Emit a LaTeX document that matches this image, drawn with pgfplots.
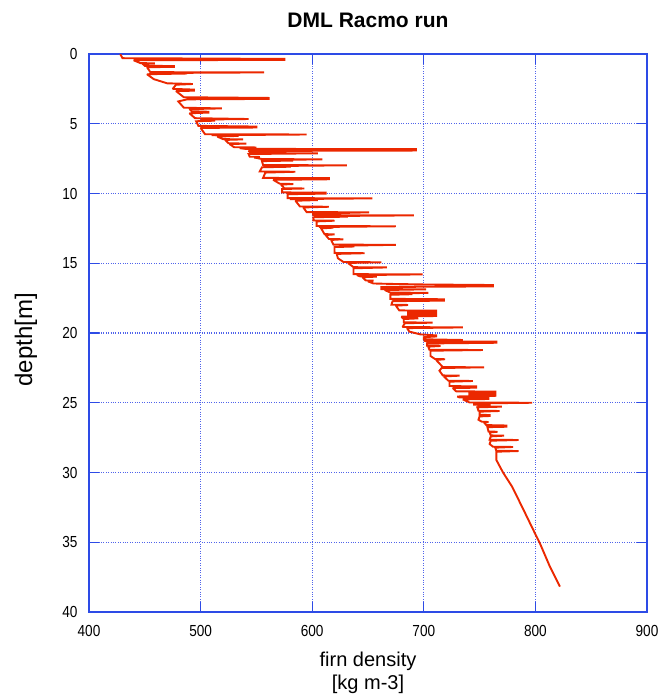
\documentclass[border=0pt]{standalone}
\usepackage{fontspec}
\setmainfont{Liberation Sans}
\newfontfamily\tickfont[FakeStretch=0.85]{Liberation Sans}
\usepackage{pgfplots}
\usepackage{pgfplotstable}
\pgfplotsset{compat=1.18}
\definecolor{frameblue}{RGB}{45,75,230}
\definecolor{gridblue}{RGB}{80,100,235}
\definecolor{linered}{RGB}{235,40,0}
\pgfplotstableread{
z rho
0.00 428
0.30 430
0.35 575
0.42 575
0.45 440
0.65 446
0.67 459
0.70 448
0.85 450
0.86 476
0.92 476
0.95 452
1.30 455
1.32 557
1.35 487
1.40 487
1.45 452
1.80 458
2.10 470
2.15 493
2.20 478
2.50 475
2.55 494
2.63 494
2.66 478
3.10 485
3.15 561
3.22 561
3.25 488
3.40 480
3.85 485
3.90 519
3.95 490
4.10 492
4.14 507
4.20 507
4.25 490
4.60 495
4.66 543
4.70 500
4.78 513
4.82 496
5.15 498
5.20 550
5.27 550
5.30 500
5.75 504
5.77 595
5.82 510
5.87 534
5.92 515
6.10 520
6.12 538
6.16 522
6.40 525
6.42 541
6.46 526
6.68 530
6.70 550
6.75 535
6.80 540
6.82 693
6.92 693
6.95 543
7.10 545
7.12 605
7.17 543
7.36 544
7.38 553
7.42 548
7.53 555
7.55 609
7.58 582
7.64 582
7.68 555
7.96 556
7.98 631
8.02 580
8.08 580
8.12 555
8.42 553
8.44 585
8.50 558
8.88 556
8.90 615
8.98 615
9.02 565
9.30 571
9.32 583
9.36 572
9.62 575
9.64 593
9.68 573
9.92 573
9.94 612
10.01 612
10.05 578
10.33 578
10.35 654
10.40 580
10.47 605
10.52 585
10.93 589
10.95 615
11.00 592
11.33 595
11.35 651
11.40 625
11.46 625
11.50 600
11.55 602
11.57 691
11.62 605
11.66 632
11.70 601
11.93 601
11.95 620
12.00 604
12.33 604
12.35 675
12.40 606
12.45 619
12.50 608
12.91 611
12.93 620
12.98 612
13.26 615
13.28 628
13.33 617
13.66 619
13.68 675
13.73 637
13.80 637
13.84 620
14.26 620
14.28 647
14.33 622
14.64 623
14.91 628
14.93 662
14.98 632
15.28 637
15.30 667
15.36 637
15.78 637
15.80 699
15.85 640
15.94 643
15.96 658
16.00 645
16.23 648
16.25 655
16.30 650
16.45 655
16.48 670
16.52 700
16.56 762
16.66 762
16.70 662
16.85 662
16.87 702
16.92 665
17.10 670
17.12 704
17.15 689
17.22 689
17.26 670
17.55 670
17.58 718
17.68 718
17.72 672
17.97 671
17.99 686
18.04 675
18.38 678
18.40 712
18.45 685
18.52 712
18.58 685
18.65 712
18.72 685
18.78 712
18.82 680
18.93 681
18.95 695
19.00 682
19.23 682
19.26 708
19.30 683
19.57 681
19.60 735
19.65 685
19.90 687
20.10 697
20.17 711
20.25 711
20.30 700
20.45 700
20.50 735
20.55 700
20.60 703
20.62 765
20.70 765
20.75 703
20.91 703
20.93 715
20.98 704
21.20 705
21.22 753
21.27 706
21.65 706
21.86 710
21.88 719
21.93 711
22.44 717
22.46 754
22.51 716
22.70 714
23.04 717
23.06 732
23.11 718
23.42 722
23.44 744
23.49 723
23.80 723
23.83 747
23.92 747
23.95 726
24.18 729
24.20 765
24.28 740
24.35 765
24.42 740
24.50 765
24.55 730
24.62 732
24.65 758
24.73 758
24.76 735
24.98 741
25.00 797
25.05 745
25.14 745
25.16 759
25.22 759
25.26 748
25.28 770
25.33 748
25.57 749
25.59 768
25.64 750
25.86 750
25.88 759
25.95 759
25.98 750
26.22 749
26.36 752
26.38 758
26.42 754
26.60 756
26.63 774
26.72 774
26.75 757
27.06 758
27.08 766
27.13 759
27.34 760
27.36 772
27.41 760
27.65 759
27.67 785
27.72 760
27.96 759
28.15 762
28.17 780
28.22 764
28.44 765
28.46 785
28.51 765
29.10 765
30.00 771
31.00 779
32.45 788
34.10 798
35.07 804
36.75 813
38.18 822
}\profile
\begin{document}
\begin{tikzpicture}
\begin{axis}[
  scale only axis,
  width=558pt, height=558pt,
  xmin=400, xmax=900, ymin=0, ymax=40,
  y dir=reverse,
  xtick={400,500,...,900},
  ytick={0,5,...,40},
  tick align=inside,
  major tick length=10pt,
  axis line style={frameblue, line width=1.2pt},
  every tick/.style={frameblue, line width=1.2pt},
  grid=major,
  major grid style={gridblue, dotted, line width=1.1pt},
  /pgf/number format/assume math mode=true,
  tick label style={font=\tickfont\fontsize{16}{18}\selectfont},
  xticklabel style={yshift=-10pt},
  yticklabel style={xshift=-8pt},
  title={\textbf{DML Racmo run}},
  title style={font=\fontsize{21}{24}\selectfont, at={(0.5,1)}, anchor=center, yshift=28pt},
  xlabel={firn density\\{}[kg m-3]},
  xlabel style={font=\fontsize{20}{23}\selectfont, align=center, at={(0.5,-0.109)}, anchor=center},
  ylabel={depth[m]},
  ylabel style={font=\fontsize{24}{27}\selectfont, at={(-0.113,0.4875)}, anchor=center},
]
\addplot[linered, line width=1.9pt, line join=miter, miter limit=2, mark=none] table[x=rho, y=z] {\profile};
\end{axis}
\pgfresetboundingbox
\path ([xshift=-89pt,yshift=-84pt]current axis.south west) rectangle ([xshift=12pt,yshift=54pt]current axis.north east);
\end{tikzpicture}
\end{document}
